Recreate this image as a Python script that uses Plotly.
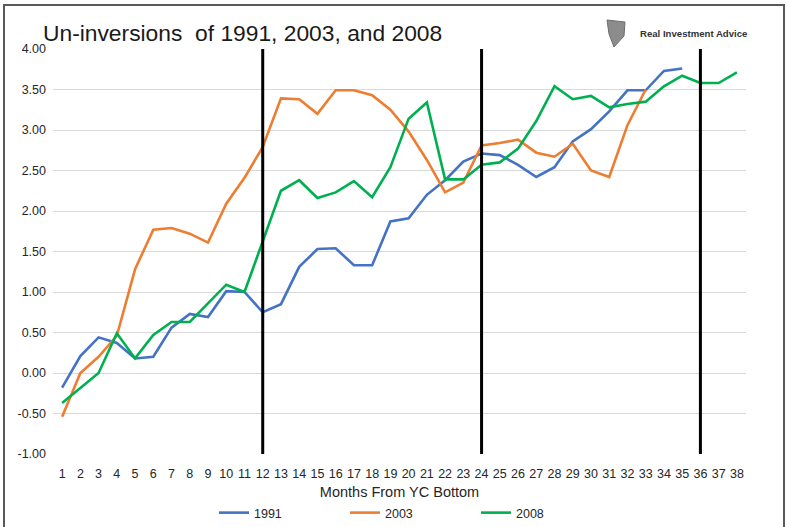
import plotly.graph_objects as go

months = list(range(1, 39))

y1991 = [-0.18, 0.21, 0.44, 0.37, 0.18, 0.20, 0.56, 0.73, 0.69, 1.01, 1.00, 0.75,
         0.85, 1.31, 1.53, 1.54, 1.33, 1.33, 1.87, 1.91, 2.20, 2.38, 2.61, 2.71,
         2.69, 2.57, 2.42, 2.54, 2.86, 3.01, 3.23, 3.49, 3.49, 3.73, 3.76]
y2003 = [-0.54, 0.00, 0.20, 0.46, 1.28, 1.77, 1.79, 1.72, 1.61, 2.09, 2.41, 2.79,
         3.39, 3.38, 3.20, 3.49, 3.49, 3.43, 3.25, 2.98, 2.63, 2.23, 2.35, 2.81,
         2.84, 2.88, 2.72, 2.67, 2.83, 2.50, 2.42, 3.06, 3.50]
y2008 = [-0.37, -0.19, 0.00, 0.49, 0.18, 0.47, 0.63, 0.63, 0.86, 1.09, 1.00, 1.62,
         2.25, 2.38, 2.16, 2.23, 2.37, 2.17, 2.54, 3.14, 3.34, 2.39, 2.39, 2.57,
         2.60, 2.77, 3.11, 3.54, 3.38, 3.42, 3.28, 3.32, 3.35, 3.54, 3.67, 3.58,
         3.58, 3.71]

series_names = ["1991", "2003", "2008"]
series_colors = ["#4472C4", "#ED7D31", "#00B050"]
marker_months = [12, 24, 36]

y_ticks = [4.0, 3.5, 3.0, 2.5, 2.0, 1.5, 1.0, 0.5, 0.0, -0.5, -1.0]
y_ticktext = ["4.00", "3.50", "3.00", "2.50", "2.00", "1.50", "1.00", "0.50",
              "0.00", "-0.50", "-1.00"]

W, H = 788, 527
L, R, T, B = 53, 42, 49, 73
PW, PH = W - L - R, H - T - B


def px2x(px):
    return (px - L) / PW


def py2y(py):
    return 1 - (py - T) / PH


fig = go.Figure()
for name, vals, col in zip(series_names, [y1991, y2003, y2008], series_colors):
    fig.add_trace(go.Scatter(
        x=months[:len(vals)], y=vals, name=name, mode="lines",
        line=dict(color=col, width=2.6),
    ))

for m in marker_months:
    fig.add_shape(type="line", xref="x", yref="y", x0=m, x1=m, y0=-1, y1=4,
                  line=dict(color="black", width=3), layer="above")

# outer frame
fig.add_shape(type="rect", xref="paper", yref="paper",
              x0=px2x(4), x1=px2x(784), y0=py2y(540), y1=py2y(5),
              line=dict(color="#595959", width=2), fillcolor="rgba(0,0,0,0)")

# title
fig.add_annotation(xref="paper", yref="paper", x=px2x(41), y=py2y(33),
                   xanchor="left", yanchor="middle", showarrow=False,
                   text="Un-inversions  of 1991, 2003, and 2008",
                   font=dict(family="Liberation Sans", size=22.8, color="#1a1a1a"))

# logo
fig.add_shape(type="path", xref="paper", yref="paper",
              path=("M {a},{b} L {c},{d} L {e},{f} L {g},{h} L {i},{j} Z").format(
                  a=px2x(607), b=py2y(20), c=px2x(625), d=py2y(22),
                  e=px2x(624), f=py2y(36), g=px2x(614), h=py2y(47),
                  i=px2x(609), j=py2y(34)),
              fillcolor="#8c8c8c", line=dict(color="#6e6e6e", width=1))
fig.add_annotation(xref="paper", yref="paper", x=px2x(638), y=py2y(33),
                   xanchor="left", yanchor="middle", showarrow=False,
                   text="<b>Real Investment Advice</b>",
                   font=dict(family="Liberation Sans", size=9.6, color="#333333"))

fig.update_layout(
    width=W, height=H,
    margin=dict(l=L, r=R, t=T, b=B, autoexpand=False),
    paper_bgcolor="white", plot_bgcolor="white",
    font=dict(family="Liberation Sans", size=12.5, color="#262626"),
    showlegend=True,
    legend=dict(orientation="h", x=px2x(214), y=py2y(513), xanchor="left",
                yanchor="middle", entrywidth=86, entrywidthmode="pixels",
                font=dict(size=12.5, color="#262626"), itemwidth=30),
    xaxis=dict(range=[0.5, 38.5], tickmode="array", tickvals=months,
               ticktext=[str(m) for m in months], showgrid=False,
               zeroline=False, showline=False, ticks="", ticklabelstandoff=10,
               title=dict(text="Months From YC Bottom", standoff=7,
                          font=dict(size=14.5, color="#262626"))),
    yaxis=dict(range=[-1, 4], tickmode="array", tickvals=y_ticks,
               ticktext=y_ticktext, showgrid=True, gridcolor="#d9d9d9",
               gridwidth=1, zeroline=False, showline=False, ticks="",
               ticklabelstandoff=6),
)

fig.write_html("out.html", config={"displayModeBar": False},
               post_script="document.body.style.margin='0';document.body.style.padding='0';")
